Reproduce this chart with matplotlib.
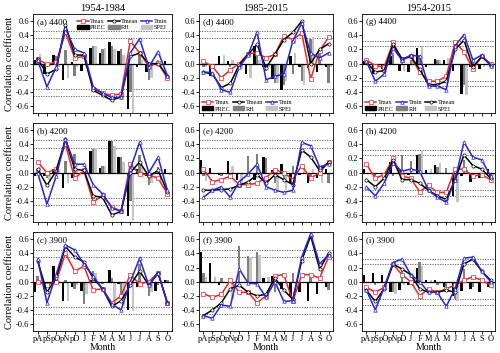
import numpy as np
import matplotlib
matplotlib.use("Agg")
import matplotlib.pyplot as plt
from matplotlib.lines import Line2D
from matplotlib.patches import Patch

# ========== Data ==========
months = ["pA", "pS", "pO", "pN", "pD", "J", "F", "M", "A", "M", "J", "J", "A", "S", "O"]
col_titles = ["1954-1984", "1985-2015", "1954-2015"]
panel_labels = ["(a) 4400", "(b) 4200", "(c) 3900",
                "(d) 4400", "(e) 4200", "(f) 3900",
                "(g) 4400", "(h) 4200", "(i) 3900"]

# (a) 1954-1984, 4400
tmax_a = [0.06, -0.01, 0.02, 0.44, 0.08, 0.10, -0.36, -0.42, -0.45, -0.43, 0.32, 0.15, -0.04, 0.01, -0.21]
tmean_a = [0.07, -0.15, -0.08, 0.55, 0.12, 0.12, -0.38, -0.45, -0.52, -0.47, 0.10, 0.15, 0.00, 0.00, -0.17]
tmin_a = [0.05, -0.33, -0.05, 0.50, 0.20, 0.15, -0.33, -0.42, -0.48, -0.48, 0.15, 0.35, -0.05, 0.17, -0.17]
prec_a = [0.05, -0.15, 0.12, -0.23, 0.02, -0.10, 0.22, 0.15, 0.30, 0.18, -0.65, -0.05, -0.12, 0.00, 0.03]
rh_a = [0.08, -0.05, 0.10, 0.19, -0.18, 0.00, 0.25, 0.20, 0.25, 0.20, -0.40, 0.15, -0.23, 0.05, -0.02]
spei_a = [0.13, -0.03, -0.05, -0.20, -0.05, -0.05, 0.25, 0.22, 0.20, 0.12, -0.70, 0.05, -0.20, -0.05, -0.02]

# (b) 1954-1984, 4200
tmax_b = [0.15, 0.00, 0.05, 0.40, -0.08, 0.03, -0.42, -0.32, -0.48, -0.55, 0.12, -0.02, -0.03, -0.08, -0.30]
tmean_b = [0.05, -0.18, 0.02, 0.47, 0.05, 0.03, -0.33, -0.35, -0.60, -0.55, 0.00, 0.15, -0.05, 0.03, -0.27]
tmin_b = [0.00, -0.45, -0.05, 0.47, 0.12, 0.12, -0.17, -0.30, -0.50, -0.55, 0.05, 0.43, 0.00, 0.22, -0.25]
prec_b = [-0.05, -0.05, 0.05, -0.22, -0.08, 0.00, 0.30, 0.06, 0.45, 0.22, -0.62, 0.05, -0.05, 0.00, 0.05]
rh_b = [0.05, -0.08, 0.00, 0.17, 0.27, 0.00, 0.33, 0.10, 0.45, 0.22, -0.40, 0.25, -0.18, 0.08, -0.02]
spei_b = [0.08, -0.10, 0.05, -0.15, 0.05, 0.00, 0.35, 0.10, 0.38, 0.15, -0.68, 0.08, -0.15, 0.00, -0.03]

# (c) 1954-1984, 3900
tmax_c = [0.00, -0.05, 0.00, 0.40, 0.15, 0.22, -0.12, -0.10, -0.30, -0.20, 0.10, -0.03, 0.00, 0.13, -0.30]
tmean_c = [0.30, -0.15, 0.05, 0.50, 0.35, 0.28, 0.05, -0.10, -0.35, -0.27, -0.05, 0.15, -0.05, 0.12, -0.30]
tmin_c = [0.32, -0.30, 0.10, 0.52, 0.45, 0.25, 0.08, -0.10, -0.32, -0.40, 0.00, 0.33, -0.05, 0.13, -0.30]
prec_c = [-0.15, -0.10, 0.22, -0.28, -0.08, -0.13, 0.02, 0.00, 0.17, -0.03, -0.40, -0.08, 0.00, -0.13, 0.03]
rh_c = [0.08, -0.05, 0.00, 0.02, -0.10, -0.32, 0.15, -0.03, 0.05, -0.18, 0.00, 0.25, -0.20, -0.05, 0.03]
spei_c = [0.00, 0.00, 0.00, -0.28, -0.05, -0.18, 0.13, 0.00, -0.35, -0.35, -0.42, -0.05, -0.15, 0.00, 0.00]

# (d) 1985-2015, 4400
tmax_d = [0.03, -0.04, -0.20, -0.09, 0.00, 0.14, 0.15, 0.08, 0.13, 0.39, 0.34, 0.43, -0.22, 0.18, 0.37]
tmean_d = [-0.12, -0.15, -0.34, -0.28, -0.02, 0.13, 0.27, -0.06, 0.13, 0.34, 0.44, 0.60, 0.00, 0.20, 0.28]
tmin_d = [-0.12, -0.13, -0.37, -0.41, -0.05, 0.12, 0.45, -0.23, -0.18, -0.15, 0.32, 0.57, 0.15, 0.08, 0.15]
prec_d = [0.00, -0.18, 0.10, 0.03, -0.03, -0.15, 0.25, -0.05, -0.22, -0.38, 0.10, -0.05, -0.07, -0.12, -0.05]
rh_d = [-0.05, -0.05, 0.00, -0.05, -0.02, 0.00, 0.10, -0.10, -0.28, -0.30, -0.15, -0.25, 0.35, 0.15, -0.27]
spei_d = [-0.05, 0.00, 0.12, 0.05, -0.08, -0.20, 0.05, -0.05, -0.27, -0.25, 0.15, -0.30, 0.38, 0.00, -0.05]

# (e) 1985-2015, 4200
tmax_e = [0.05, -0.13, -0.10, -0.05, -0.17, -0.17, -0.15, -0.07, 0.04, 0.00, -0.10, 0.10, -0.08, 0.00, 0.15]
tmean_e = [-0.25, -0.25, -0.24, -0.23, -0.18, -0.13, -0.03, -0.15, -0.03, -0.10, -0.17, 0.32, 0.22, 0.03, 0.15]
tmin_e = [-0.35, -0.25, -0.20, -0.35, -0.13, -0.02, 0.12, -0.20, -0.25, -0.28, -0.25, 0.43, 0.38, 0.08, 0.12]
prec_e = [0.18, 0.07, -0.03, 0.17, -0.10, 0.00, -0.10, 0.22, 0.03, 0.12, -0.15, -0.03, -0.15, -0.08, 0.05]
rh_e = [-0.05, 0.00, -0.05, 0.00, 0.00, 0.24, 0.27, 0.20, -0.15, -0.10, 0.10, 0.00, -0.10, 0.10, -0.15]
spei_e = [-0.12, 0.00, 0.00, 0.10, -0.15, 0.00, 0.00, 0.00, -0.25, -0.25, -0.08, 0.10, 0.05, -0.15, 0.00]

# (f) 1985-2015, 3900
tmax_f = [-0.17, -0.22, -0.18, 0.02, -0.15, -0.15, -0.30, -0.20, 0.08, 0.10, -0.28, 0.10, 0.10, 0.05, 0.35]
tmean_f = [-0.48, -0.40, -0.30, -0.10, -0.05, -0.15, -0.20, -0.18, 0.05, -0.12, -0.25, 0.30, 0.65, 0.18, 0.40]
tmin_f = [-0.48, -0.52, -0.33, -0.35, 0.18, -0.02, -0.03, -0.22, 0.00, -0.28, -0.27, 0.35, 0.68, 0.25, 0.38]
prec_f = [0.42, 0.27, -0.05, 0.00, 0.00, 0.00, 0.00, 0.05, 0.08, -0.10, -0.20, -0.15, -0.27, -0.18, -0.08]
rh_f = [0.12, 0.00, 0.05, 0.05, 0.50, 0.37, 0.42, 0.00, -0.15, 0.00, 0.12, -0.02, 0.05, 0.00, -0.12]
spei_f = [0.07, 0.06, 0.00, -0.25, 0.00, 0.35, 0.38, 0.06, 0.00, 0.00, 0.00, 0.00, 0.00, 0.00, 0.00]

# (g) 1954-2015, 4400
tmax_g = [0.05, -0.03, -0.05, 0.30, 0.05, 0.10, -0.12, -0.25, -0.25, -0.18, 0.30, 0.17, -0.08, 0.10, 0.00]
tmean_g = [0.02, -0.12, -0.10, 0.27, 0.07, 0.10, -0.08, -0.30, -0.30, -0.25, 0.20, 0.33, -0.05, 0.10, -0.02]
tmin_g = [0.03, -0.25, -0.15, 0.22, 0.05, 0.12, 0.10, -0.32, -0.32, -0.37, 0.25, 0.41, 0.05, 0.12, -0.03]
prec_g = [0.03, -0.15, -0.08, 0.10, -0.10, -0.12, 0.22, -0.05, 0.06, 0.05, -0.10, -0.43, -0.05, -0.08, -0.02]
rh_g = [0.00, -0.08, 0.00, 0.15, 0.05, 0.05, 0.12, 0.00, 0.05, 0.00, 0.00, -0.30, 0.03, 0.00, -0.05]
spei_g = [0.00, -0.05, 0.00, 0.00, -0.10, 0.10, 0.25, 0.00, 0.05, 0.08, 0.00, -0.45, 0.00, -0.05, -0.08]

# (h) 1954-2015, 4200
tmax_h = [0.12, -0.08, -0.03, 0.20, -0.05, -0.08, -0.27, -0.18, -0.28, -0.28, 0.05, 0.05, -0.05, -0.03, -0.10]
tmean_h = [-0.10, -0.20, -0.08, 0.18, -0.10, -0.10, -0.15, -0.25, -0.33, -0.38, -0.10, 0.25, 0.10, 0.05, -0.08]
tmin_h = [-0.20, -0.33, -0.15, 0.13, 0.02, 0.05, 0.02, -0.25, -0.35, -0.42, -0.10, 0.43, 0.22, 0.18, -0.05]
prec_h = [0.05, 0.00, 0.00, 0.15, 0.03, -0.03, 0.25, 0.04, 0.11, 0.00, -0.33, -0.05, -0.13, -0.07, 0.05]
rh_h = [0.00, -0.05, 0.00, -0.05, 0.25, 0.17, 0.27, 0.00, 0.08, 0.07, -0.10, 0.18, -0.05, 0.00, -0.05]
spei_h = [0.00, 0.00, 0.00, 0.00, 0.00, 0.00, 0.30, 0.05, 0.14, 0.00, -0.42, 0.05, -0.05, 0.00, -0.05]

# (i) 1954-2015, 3900
tmax_i = [-0.08, -0.15, -0.08, 0.25, 0.10, 0.00, -0.20, -0.10, -0.15, -0.10, -0.05, 0.02, 0.07, 0.02, -0.05]
tmean_i = [-0.12, -0.28, -0.10, 0.25, 0.18, 0.10, -0.10, -0.15, -0.15, -0.12, -0.15, 0.25, 0.32, 0.15, 0.02]
tmin_i = [-0.12, -0.40, -0.08, 0.27, 0.32, 0.10, 0.00, -0.15, -0.15, -0.35, -0.10, 0.33, 0.35, 0.15, 0.00]
prec_i = [0.10, 0.12, 0.10, -0.15, -0.12, -0.05, 0.20, 0.03, 0.03, -0.08, -0.20, -0.13, -0.10, -0.15, -0.07]
rh_i = [0.00, -0.05, 0.00, -0.15, 0.15, 0.00, 0.28, 0.00, -0.05, -0.12, -0.25, 0.18, -0.08, 0.00, -0.07]
spei_i = [0.00, 0.00, 0.00, -0.18, -0.05, 0.00, 0.22, 0.03, 0.00, 0.00, -0.28, 0.00, 0.00, 0.00, -0.10]

# significance levels (95%, 99%) per period
sig_levels = [(0.355, 0.456), (0.355, 0.456), (0.25, 0.325)]

panels = [
    (tmax_a, tmean_a, tmin_a, prec_a, rh_a, spei_a),
    (tmax_b, tmean_b, tmin_b, prec_b, rh_b, spei_b),
    (tmax_c, tmean_c, tmin_c, prec_c, rh_c, spei_c),
    (tmax_d, tmean_d, tmin_d, prec_d, rh_d, spei_d),
    (tmax_e, tmean_e, tmin_e, prec_e, rh_e, spei_e),
    (tmax_f, tmean_f, tmin_f, prec_f, rh_f, spei_f),
    (tmax_g, tmean_g, tmin_g, prec_g, rh_g, spei_g),
    (tmax_h, tmean_h, tmin_h, prec_h, rh_h, spei_h),
    (tmax_i, tmean_i, tmin_i, prec_i, rh_i, spei_i),
]

# ========== Style ==========
plt.rcParams['font.family'] = ['Liberation Serif', 'DejaVu Serif']
plt.rcParams['axes.linewidth'] = 0.6
red = '#e8262a'
blue = '#2424d8'
grey = '#7f7f7f'
light = '#c4c4c4'
bw = 0.27

col_left = [0.066, 0.398, 0.724]
col_w = [0.278, 0.268, 0.266]
row_bottom = [0.680, 0.371, 0.062]
row_h = 0.280

fig = plt.figure(figsize=(5.0, 3.53), dpi=100)
x = np.arange(len(months))

for c in range(3):
    for r in range(3):
        k = c * 3 + r
        tmax, tmean, tmin, prec, rh, spei = panels[k]
        ax = fig.add_axes([col_left[c], row_bottom[r], col_w[c], row_h])

        ax.bar(x - bw, prec, bw, color='black', zorder=2)
        ax.bar(x, rh, bw, color=grey, zorder=2)
        ax.bar(x + bw, spei, bw, color=light, zorder=2)

        ax.axhline(0, color='black', lw=0.9, zorder=3)
        for s in sig_levels[c]:
            for sign in (1, -1):
                ax.axhline(sign * s, color='#555555', lw=0.6, ls=(0, (1.5, 1.5)), zorder=1)

        ax.plot(x, tmax, color=red, lw=1.1, marker='s', ms=2.3, mfc='white', mec=red, mew=0.5, zorder=4)
        ax.plot(x, tmean, color='black', lw=1.1, marker='o', ms=2.3, mfc='white', mec='black', mew=0.5, zorder=4)
        ax.plot(x, tmin, color=blue, lw=1.1, marker='^', ms=2.5, mfc='white', mec=blue, mew=0.5, zorder=4)

        ax.set_xlim(-0.5, len(months) - 0.5)
        ax.set_ylim(-0.7, 0.7)
        ax.set_yticks([0.6, 0.4, 0.2, 0.0, -0.2, -0.4, -0.6])
        ax.set_yticklabels(['0.6', '0.4', '0.2', '0.0', '-0.2', '-0.4', '-0.6'])
        ax.set_xticks(x)
        ax.tick_params(axis='both', labelsize=6, length=2, width=0.6, pad=1)
        if r == 2:
            ax.set_xticklabels(months)
            ax.set_xlabel('Month', fontsize=7, labelpad=0)
        else:
            ax.set_xticklabels([])
        if c == 0:
            ax.set_ylabel('Correlation coefficient', fontsize=7.5, labelpad=1)
        if r == 0:
            ax.set_title(col_titles[c], fontsize=7.5, pad=2)

        ax.text(0.03, 0.96, panel_labels[k], transform=ax.transAxes, fontsize=6.5, va='top', ha='left')

        # legends only in the top row
        if r == 0:
            h_tmax = Line2D([], [], color=red, lw=1.1, marker='s', ms=2.3, mfc='white', mec=red, mew=0.5)
            h_tmean = Line2D([], [], color='black', lw=1.1, marker='o', ms=2.3, mfc='white', mec='black', mew=0.5)
            h_tmin = Line2D([], [], color=blue, lw=1.1, marker='^', ms=2.5, mfc='white', mec=blue, mew=0.5)
            h_prec = Patch(color='black')
            h_rh = Patch(color=grey)
            h_spei = Patch(color=light)
            if c == 2:
                handles = [h_tmax, h_prec, h_tmin, h_rh, h_tmean, h_spei]
                labels = ['Tmax', 'PREC', 'Tmin', 'RH', 'Tmean', 'SPEI']
            else:
                handles = [h_tmax, h_prec, h_tmean, h_rh, h_tmin, h_spei]
                labels = ['Tmax', 'PREC', 'Tmean', 'RH', 'Tmin', 'SPEI']
            if c == 0:
                loc, anchor = 'upper right', (1.0, 1.0)
            else:
                loc, anchor = 'lower left', (-0.01, -0.03)
            ax.legend(handles, labels, ncol=3, loc=loc, bbox_to_anchor=anchor,
                      fontsize=4.5, frameon=False, handlelength=1.8, handleheight=0.6,
                      columnspacing=0.4, handletextpad=0.25, labelspacing=0.15,
                      borderpad=0.2)

fig.savefig('out.png', dpi=100)
